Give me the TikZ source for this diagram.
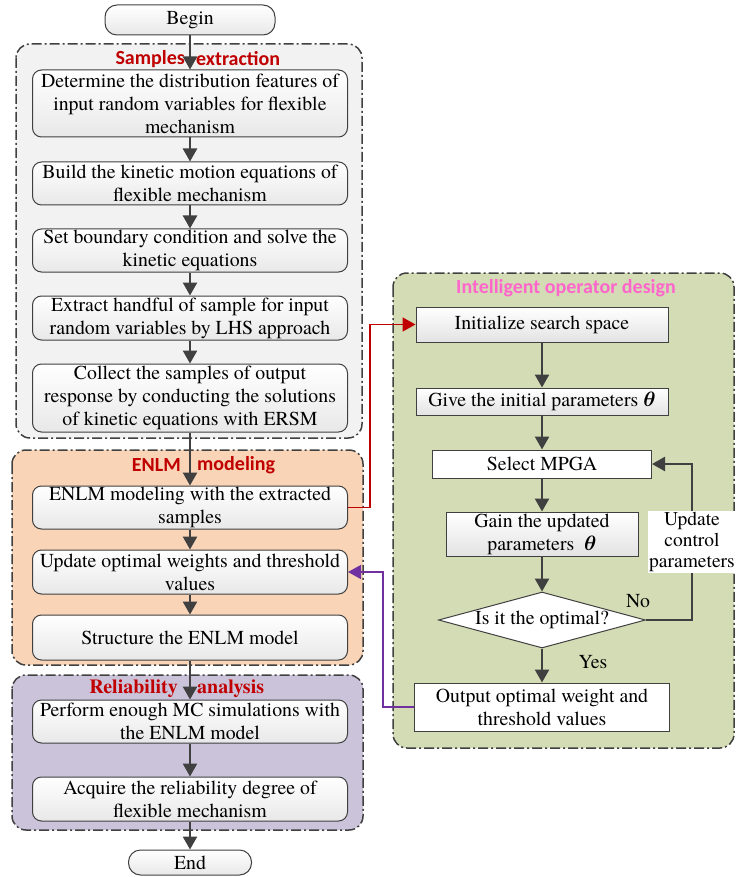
\documentclass[tikz,border=0pt]{standalone}
\usepackage{amsmath}
\usepackage{fontspec}
\setmainfont{TeX Gyre Termes}
\newfontfamily\headfont{Carlito}
\usetikzlibrary{arrows.meta,shapes.geometric}

\definecolor{flowgray}{HTML}{404040}
\definecolor{titlered}{HTML}{C00000}
\definecolor{titlepink}{HTML}{FF66CC}
\definecolor{linkpurple}{HTML}{7030A0}
\definecolor{grpgray}{HTML}{F2F2F2}
\definecolor{grppeach}{HTML}{F9D4B6}
\definecolor{grplav}{HTML}{CBC3D9}
\definecolor{grpgreen}{HTML}{D4DCB5}

\begin{document}
\begin{tikzpicture}[
    x=1pt, y=-1pt,
    font=\fontsize{19.8}{23}\selectfont,
    stepbox/.style={draw=flowgray, line width=1pt, rounded corners=9pt, top color=white, bottom color=gray!18, minimum width=315pt, align=center, inner sep=1pt},
    termbox/.style={stepbox, rounded corners=12pt},
    opbox/.style={draw=flowgray, line width=1pt, top color=white, bottom color=gray!22, align=center, inner sep=1pt},
    plainbox/.style={draw=flowgray, line width=1pt, fill=white, align=center, inner sep=1pt},
    decision/.style={diamond, draw=flowgray, line width=1pt, fill=white, aspect=3.7, inner sep=0pt, minimum width=207pt, minimum height=56pt},
    group/.style={draw=flowgray, line width=1.5pt, rounded corners=14pt, dash pattern=on 10pt off 3pt on 2pt off 3pt},
    flow/.style={draw=flowgray, line width=2.5pt, -{Triangle[width=14pt,length=13pt]}},
    redflow/.style={draw=titlered, line width=1.5pt, -{Triangle[width=14pt,length=13pt]}},
    purpleflow/.style={draw=linkpurple, line width=1.5pt, -{Triangle[width=14pt,length=13pt]}},
    title/.style={font=\headfont\bfseries\fontsize{20}{22}\selectfont, text=titlered, inner sep=0pt},
    lbl/.style={fill=white, align=center, inner sep=1pt, font=\fontsize{19.5}{21}\selectfont}
]
    \useasboundingbox (0,0) rectangle (736,877);

    % Groups
    \draw[group, fill=grpgray] (16,44) rectangle (362,438);
    \draw[group, fill=grppeach] (12,450) rectangle (363,665);
    \draw[group, fill=grplav] (12,675) rectangle (363,830);
    \draw[group, fill=grpgreen] (393,273) rectangle (734,748);

    % Group titles
    \node[title, anchor=east] (tsa) at (185,59) {Samples};
    \node[title, anchor=west] (tsb) at (196,59) {extraction};
    \node[title, anchor=east] (tea) at (181,465) {ENLM};
    \node[title, anchor=west] (teb) at (197,465) {modeling};
    \node[title, font=\bfseries\fontsize{20}{22}\selectfont, anchor=east] (tra) at (178,689) {Reliability};
    \node[title, font=\bfseries\fontsize{20}{22}\selectfont, anchor=west] (trb) at (197,689) {analysis};
    \node[title, text=titlepink] (tio) at (566,288) {Intelligent operator design};

    % Main flow
    \node[termbox, minimum width=170pt, minimum height=30pt] (begin) at (190,20) {Begin};
    \node[stepbox, minimum height=67pt] (s1) at (190,103.5) {Determine the distribution features of\\input random variables for flexible\\mechanism};
    \node[stepbox, minimum height=43pt] (s2) at (190,183.5) {Build the kinetic motion equations of\\flexible mechanism};
    \node[stepbox, minimum height=43pt] (s3) at (190,250.5) {Set boundary condition and solve the\\kinetic equations};
    \node[stepbox, minimum height=44pt] (s4) at (190,318) {Extract handful of sample for input\\random variables by LHS approach};
    \node[stepbox, minimum height=68pt] (s5) at (190,398) {Collect the samples of output\\response by conducting the solutions\\of kinetic equations with ERSM};
    \node[stepbox, minimum height=43pt] (m1) at (190,507.5) {ENLM modeling with the extracted\\samples};
    \node[stepbox, minimum height=44pt] (m2) at (190,572) {Update optimal weights and threshold\\values};
    \node[stepbox, minimum height=45pt] (m3) at (190,637.5) {Structure the ENLM model};
    \node[stepbox, minimum height=43pt] (r1) at (190,721.5) {Perform enough MC simulations with\\the ENLM model};
    \node[stepbox, minimum height=44pt] (r2) at (190,799) {Acquire the reliability degree of\\flexible mechanism};
    \node[termbox, minimum width=123pt, minimum height=25pt] (end) at (190,862.5) {End};

    \foreach \a/\b in {begin/s1, s1/s2, s2/s3, s3/s4, s4/s5, s5/m1, m1/m2, m2/m3, m3/r1, r1/r2, r2/end}
        \draw[flow] (\a) -- (\b);

    % Intelligent operator
    \node[opbox, minimum width=252pt, minimum height=35pt] (i1) at (542,324.5) {Initialize search space};
    \node[opbox, minimum width=252pt, minimum height=27pt] (i2) at (542,401.5) {Give the initial parameters $\boldsymbol{\theta}$};
    \node[plainbox, minimum width=219pt, minimum height=28pt] (i3) at (542,464) {Select MPGA};
    \node[opbox, minimum width=192pt, minimum height=44pt] (i4) at (542,534) {Gain the updated\\parameters~~$\boldsymbol{\theta}$};
    \node[decision] (i5) at (542,620) {Is it the optimal?};
    \node[plainbox, minimum width=255pt, minimum height=48pt] (i6) at (542,707) {Output optimal weight and\\threshold values};

    \foreach \a/\b in {i1/i2, i2/i3, i3/i4, i4/i5, i5/i6}
        \draw[flow] (\a) -- (\b);

    \coordinate (loop) at (692,464);
    \draw[flow] (i5.east) -| node[pos=0.75, lbl] (upd) {Update\\control\\parameters} (loop) -- (i3.east);
    \node (no) at (638,601) {No};
    \node (yes) at (593,662) {Yes};

    % Links between the two columns
    \draw[redflow] (m1.east) -- ++(22,0) |- (i1.west);
    \draw[purpleflow] (i6.west) -- ++(-31,0) |- (m2.east);
\end{tikzpicture}
\end{document}
